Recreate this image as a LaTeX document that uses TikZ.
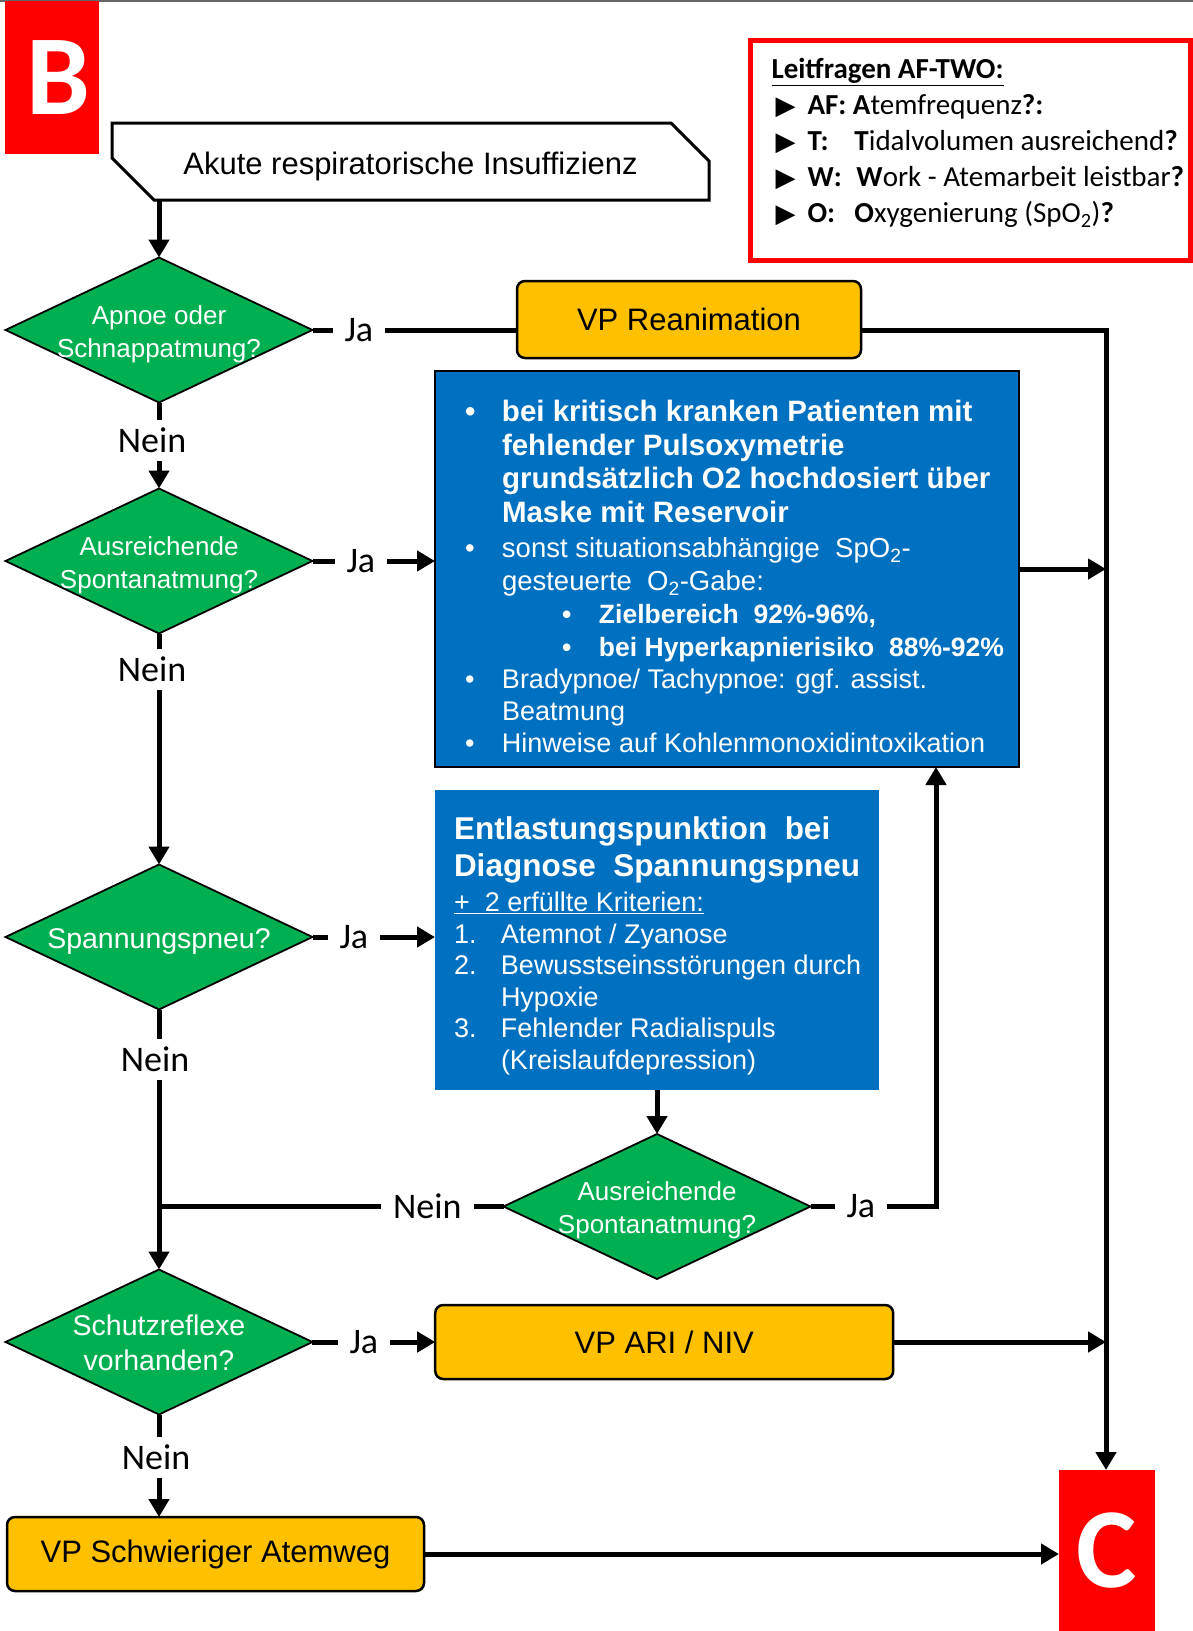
\documentclass[tikz,border=0pt]{standalone}
\usepackage{fontspec}
\setmainfont{Liberation Sans}
\newfontfamily\calibri{Carlito}
\newfontfamily\symb{DejaVu Sans}
\usetikzlibrary{positioning}
\usetikzlibrary{shapes.geometric}
\usetikzlibrary{arrows.meta}

\definecolor{dgreen}{RGB}{0,176,80}
\definecolor{vporange}{RGB}{255,192,0}
\definecolor{vpblue}{RGB}{0,112,192}

% Rautentext ohne Breite, damit die Raute ihre feste Groesse behaelt
\newcommand{\dtext}[1]{\raisebox{-4pt}[\height][\depth]{\makebox[0pt]{\begin{tabular}{@{}c@{}}#1\end{tabular}}}}
\newcommand{\bul}{\makebox[37pt][l]{\textbullet}}
\newcommand{\tri}{\makebox[32pt][l]{{\symb\fontsize{26}{26}\selectfont ▶}}}

\begin{document}
\begin{tikzpicture}[x=1pt, y=-1pt, >={Triangle[length=18pt,width=20pt]},
    every node/.style={outer sep=0pt},
    conn/.style={line width=5pt},
    decision/.style={diamond, draw=black, line width=1.8pt, fill=dgreen, text=white,
      minimum width=307pt, minimum height=145pt, inner sep=0pt, font=\fontsize{26}{33}\selectfont},
    vpbox/.style={draw=black, line width=2.5pt, rounded corners=8pt, fill=vporange,
      inner sep=0pt, font=\fontsize{31}{37}\selectfont},
    infobox/.style={fill=vpblue, text=white, inner sep=0pt, anchor=north west},
    lab/.style={inner xsep=12pt, inner ysep=8pt, font=\calibri\fontsize{36}{40}\selectfont},
    letterbox/.style={fill=red, text=white, inner sep=0pt, anchor=north west,
      font=\calibri\bfseries\fontsize{114}{114}\selectfont}]
        \useasboundingbox (0,0) rectangle (1193,1631);
        \draw[black!60, line width=1.5pt] (0,0.75) -- (1193,0.75);

        % Kapitelmarken
        \node[letterbox, minimum width=94pt, minimum height=153pt] (B) at (5,1) {\hspace*{12pt}B};
        \node[letterbox, minimum width=96pt, minimum height=161pt] (C) at (1059,1470) {C};

        % Start
        \node[minimum width=597pt, minimum height=77pt, font=\fontsize{31}{37}\selectfont] (akute) at (410.5,161.5) {\raisebox{-5pt}[\height][\depth]{Akute respiratorische Insuffizienz}};
        \draw[line width=3pt] (akute.north west) -- ([xshift=-38pt]akute.north east) -- ([yshift=-38pt]akute.north east)
          -- (akute.south east) -- ([xshift=42pt]akute.south west) -- ([yshift=42pt]akute.south west) -- cycle;

        % Leitfragen
        \node[draw=red, line width=5pt, anchor=north west, inner sep=0pt, minimum width=440pt, minimum height=220pt,
          font=\calibri\fontsize{29}{36}\selectfont] (leit) at (750.5,40.5) {\parbox[c][220pt][t]{440pt}{%
          \vspace*{18pt}
          \hspace*{21pt}\underline{\textbf{Leitfragen AF-TWO:}}\par
          \hspace*{25pt}\tri\textbf{AF: A}temfrequenz\textbf{?:}\par
          \hspace*{25pt}\tri\makebox[47pt][l]{\textbf{T:}}\textbf{T}idalvolumen ausreichend\textbf{?}\par
          \hspace*{25pt}\tri\makebox[49pt][l]{\textbf{W:}}\textbf{W}ork - Atemarbeit leistbar\textbf{?}\par
          \hspace*{25pt}\tri\makebox[47pt][l]{\textbf{O:}}\textbf{O}xygenierung (SpO\textsubscript{2})\textbf{?}}};

        % Entscheidungen links
        \node[decision] (d1) at (159,330) {\dtext{Apnoe oder\\Schnappatmung?}};
        \node[decision, below=86pt of d1] (d2) {\dtext{Ausreichende\\Spontanatmung?}};
        \node[decision, below=231pt of d2, font=\fontsize{28.5}{35}\selectfont] (d3) {\dtext{Spannungspneu?}};
        \node[decision, below=260pt of d3, font=\fontsize{28.5}{35}\selectfont] (d5) {\dtext{Schutzreflexe\\vorhanden?}};

        % Ja / Nein
        \node[lab, right=20pt of d1] (j1) {Ja};
        \node[lab, below=17.5pt of d1, xshift=-7pt] (n1) {Nein};
        \node[lab, right=22pt of d2] (j2) {Ja};
        \node[lab, below=15pt of d2, xshift=-7pt] (n2) {Nein};
        \node[lab, right=15pt of d3] (j3) {Ja};
        \node[lab, below=29pt of d3, xshift=-4pt] (n3) {Nein};
        \node[lab, right=25pt of d5] (j5) {Ja};
        \node[lab, below=22pt of d5, xshift=-3pt] (n5) {Nein};

        % Verfahrenspfade
        \node[vpbox, anchor=north west, minimum width=344pt, minimum height=77pt] (rean) at (517,281) {VP Reanimation};
        \node[vpbox, right=45pt of j5, minimum width=458pt, minimum height=74pt] (ari) {VP ARI / NIV};
        \node[vpbox, anchor=north west, minimum width=417pt, minimum height=74pt] (schw) at (7,1517) {VP Schwieriger Atemweg};

        % Sauerstoff-Hinweise
        \node[infobox, draw=black, line width=2pt, minimum width=584pt, minimum height=396pt] (info) at (435,371) {\parbox[c][396pt][t]{584pt}{%
          \vspace*{29.5pt}
          {\fontsize{29.5}{33.5}\selectfont\bfseries
          \hspace*{30pt}\bul bei kritisch kranken Patienten mit\\
          \hspace*{67pt}fehlender Pulsoxymetrie\\
          \hspace*{67pt}grundsätzlich O2 hochdosiert über\\
          \hspace*{67pt}Maske mit Reservoir\par}
          \vspace{2.5pt}
          {\fontsize{27.5}{33}\selectfont
          \hspace*{30pt}\bul sonst situationsabhängige~ SpO\textsubscript{2}-\\
          \hspace*{67pt}gesteuerte~ O\textsubscript{2}-Gabe:\par}
          {\fontsize{26.5}{33}\selectfont\bfseries
          \hspace*{127pt}\bul Zielbereich~~92\%-96\%,\\
          \hspace*{127pt}\bul bei Hyperkapnierisiko~~88\%-92\%\par}
          {\fontsize{27}{32}\selectfont
          \hspace*{30pt}\bul Bradypnoe/ Tachypnoe: ggf. assist.\\
          \hspace*{67pt}Beatmung\\
          \hspace*{30pt}\bul Hinweise auf Kohlenmonoxidintoxikation\par}}};

        % Entlastungspunktion
        \node[infobox, minimum width=444pt, minimum height=300pt] (ent) at (435,790) {\parbox[c][300pt][t]{444pt}{%
          \vspace*{27pt}
          {\fontsize{31.5}{37}\selectfont\bfseries
          \hspace*{19pt}Entlastungspunktion~ bei\\
          \hspace*{19pt}Diagnose~ Spannungspneu\par}
          {\fontsize{27}{35}\selectfont
          \hspace*{19pt}\underline{+~ 2 erfüllte Kriterien:}\par}
          {\fontsize{27}{31.5}\selectfont
          \hspace*{19pt}\makebox[47pt][l]{1.}Atemnot / Zyanose\\
          \hspace*{19pt}\makebox[47pt][l]{2.}Bewusstseinsstörungen durch\\
          \hspace*{66pt}Hypoxie\\
          \hspace*{19pt}\makebox[47pt][l]{3.}Fehlender Radialispuls\\
          \hspace*{66pt}(Kreislaufdepression)\par}}};

        \node[decision, below=44pt of ent] (d4) {\dtext{Ausreichende\\Spontanatmung?}};
        \node[lab, left=30pt of d4] (n4) {Nein};
        \node[lab, right=24pt of d4] (j4) {Ja};

        % rechte Sammelleitung
        \coordinate (rail) at (1106,330);

        % Verbindungen
        \draw[conn, ->] (d1 |- akute.south) -- (d1);
        \draw[conn] (d1) -- (j1);
        \draw[conn] (j1) -- (j1 -| rean.west);
        \draw[conn, ->] (j1 -| rean.east) -- (rail) -- (rail |- C.north);
        \draw[conn] (d1.south) -- (d1 |- n1.north);
        \draw[conn, ->] (d1 |- n1.south) -- (d2);

        \draw[conn] (d2) -- (j2);
        \draw[conn, ->] (j2) -- (j2 -| info.west);
        \draw[conn, ->] (info.east) -- (info.east -| rail);
        \draw[conn] (d2.south) -- (d2 |- n2.north);
        \draw[conn, ->] (d2 |- n2.south) -- (d3);

        \draw[conn] (d3) -- (j3);
        \draw[conn, ->] (j3) -- (j3 -| ent.west);
        \draw[conn] (d3.south) -- (d3 |- n3.north);
        \draw[conn, ->] (d3 |- n3.south) -- (d5);

        \draw[conn, ->] (ent) -- (d4);
        \draw[conn] (d4) -- (n4);
        \draw[conn] (n4) -- (n4 -| d3);
        \draw[conn] (d4) -- (j4);
        \draw[conn, ->] (j4) -| ([xshift=209pt]info.south);

        \draw[conn] (d5) -- (j5);
        \draw[conn, ->] (j5) -- (ari);
        \draw[conn, ->] (ari) -- (ari -| rail);
        \draw[conn] (d5.south) -- (d5 |- n5.north);
        \draw[conn, ->] (d5 |- n5.south) -- (d5 |- schw.north);
        \draw[conn, ->] (schw) -- (schw -| C.west);

    \end{tikzpicture}
\end{document}
